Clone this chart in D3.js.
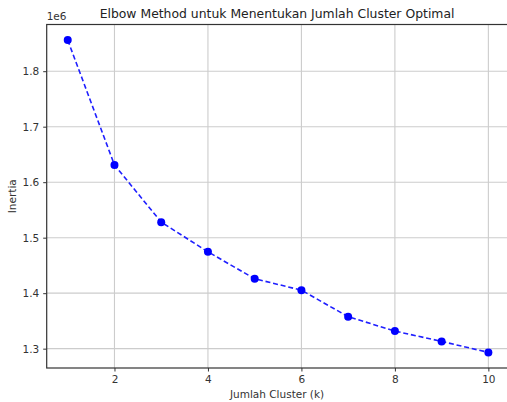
<!DOCTYPE html>
<html>
<head>
<meta charset="utf-8">
<script src="https://cdn.jsdelivr.net/npm/d3@7"></script>
<style>
  body { margin: 0; background: #fff; }
  svg { font-family: "DejaVu Sans", sans-serif; }
</style>
</head>
<body>
<div id="chart"></div>
<script>
// data
const clusters = [1, 2, 3, 4, 5, 6, 7, 8, 9, 10]
const inertia = [1.856e6, 1.631e6, 1.528e6, 1.4745e6, 1.426e6, 1.4054e6, 1.3576e6, 1.3317e6, 1.3131e6, 1.2933e6]
const xTicks = [2, 4, 6, 8, 10]
const yTicks = [1.3e6, 1.4e6, 1.5e6, 1.6e6, 1.7e6, 1.8e6]

const width = 507
const height = 402
const plotLeft = 46.7, plotRight = 509.4, plotTop = 24.5, plotBottom = 368

const svg = d3.select('#chart').append('svg')
  .attr('width', width)
  .attr('height', height)

// matplotlib style 5% margins
const xPad = (d3.max(clusters) - d3.min(clusters)) * 0.05
const yPad = (d3.max(inertia) - d3.min(inertia)) * 0.05
const x = d3.scaleLinear()
  .domain([d3.min(clusters) - xPad, d3.max(clusters) + xPad])
  .range([plotLeft, plotRight])
const y = d3.scaleLinear()
  .domain([d3.min(inertia) - yPad, d3.max(inertia) + yPad])
  .range([plotBottom, plotTop])

// grid
const grid = svg.append('g').attr('stroke', '#cccccc').attr('stroke-width', 1.1)
grid.selectAll('.gx').data(xTicks).join('line')
  .attr('class', 'gx')
  .attr('x1', d => x(d)).attr('x2', d => x(d))
  .attr('y1', plotTop).attr('y2', plotBottom)
grid.selectAll('.gy').data(yTicks).join('line')
  .attr('class', 'gy')
  .attr('x1', plotLeft).attr('x2', plotRight)
  .attr('y1', d => y(d)).attr('y2', d => y(d))

// axes
const xAxis = svg.append('g')
  .attr('transform', `translate(0,${plotBottom})`)
  .call(d3.axisBottom(x).tickValues(xTicks).tickSize(3.5).tickPadding(4).tickFormat(d3.format('d')))
const yAxis = svg.append('g')
  .attr('transform', `translate(${plotLeft},0)`)
  .call(d3.axisLeft(y).tickValues(yTicks).tickSize(3.5).tickPadding(4).tickFormat(d => (d / 1e6).toFixed(1)))

;[xAxis, yAxis].forEach(g => {
  g.select('.domain').remove()
  g.selectAll('text').attr('font-size', 10.5).attr('fill', '#333').attr('font-family', '"DejaVu Sans", sans-serif')
  g.selectAll('line').attr('stroke', '#333')
})

// frame
svg.append('rect')
  .attr('x', plotLeft).attr('y', plotTop)
  .attr('width', plotRight - plotLeft).attr('height', plotBottom - plotTop)
  .attr('fill', 'none').attr('stroke', '#333').attr('stroke-width', 1.2)

// line + markers
const line = d3.line()
  .x((d, i) => x(clusters[i]))
  .y(d => y(d))

svg.append('path')
  .attr('d', line(inertia))
  .attr('fill', 'none')
  .attr('stroke', '#1f1fff')
  .attr('stroke-width', 1.6)
  .attr('stroke-dasharray', '5,2.8')

svg.selectAll('circle').data(inertia).join('circle')
  .attr('cx', (d, i) => x(clusters[i]))
  .attr('cy', d => y(d))
  .attr('r', 4)
  .attr('fill', '#0000ff')

// texts
svg.append('text')
  .attr('x', (plotLeft + plotRight) / 2 - 1).attr('y', 18)
  .attr('text-anchor', 'middle')
  .attr('font-size', 12.4)
  .attr('fill', '#222')
  .text('Elbow Method untuk Menentukan Jumlah Cluster Optimal')

svg.append('text')
  .attr('x', plotLeft).attr('y', 20)
  .attr('font-size', 10.5)
  .attr('fill', '#333')
  .text('1e6')

svg.append('text')
  .attr('x', (plotLeft + plotRight) / 2 - 1).attr('y', 398)
  .attr('text-anchor', 'middle')
  .attr('font-size', 10.5)
  .attr('fill', '#333')
  .text('Jumlah Cluster (k)')

svg.append('text')
  .attr('transform', `translate(16,${(plotTop + plotBottom) / 2}) rotate(-90)`)
  .attr('text-anchor', 'middle')
  .attr('font-size', 10.5)
  .attr('fill', '#333')
  .text('Inertia')
</script>
</body>
</html>
